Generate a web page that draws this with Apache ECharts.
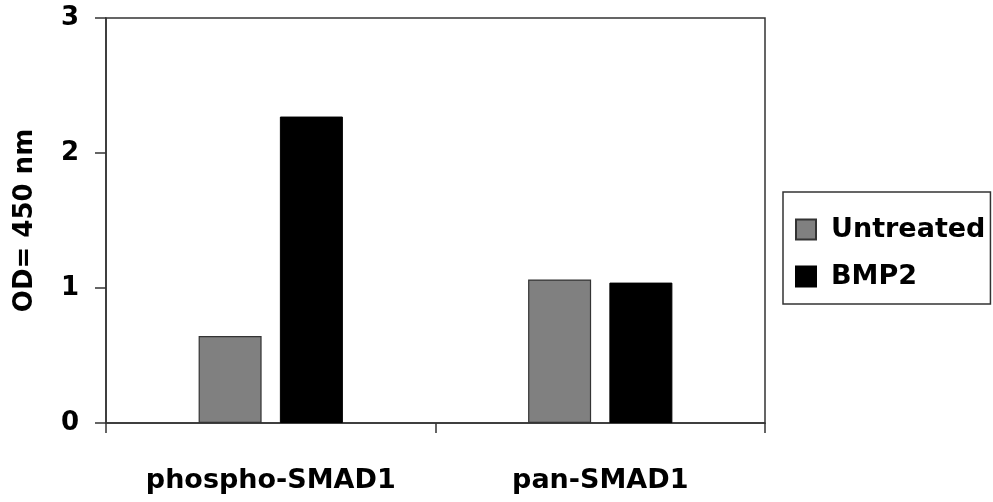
<!DOCTYPE html>
<html>
<head>
<meta charset="utf-8">
<script src="https://cdn.jsdelivr.net/npm/echarts@6/dist/echarts.min.js"></script>
<style>html,body{margin:0;padding:0;background:#fff}#c{width:993px;height:502px}</style>
</head>
<body>
<div id="c"></div>
<script>
var categories = ['phospho-SMAD1', 'pan-SMAD1'];
var untreated = [0.645, 1.063];
var bmp2 = [2.27, 1.04];
var seriesNames = ['Untreated', 'BMP2'];
var yTicks = [0, 1, 2, 3];

var FONT = 'DejaVu Sans';
var chart = echarts.init(document.getElementById('c'), null, {renderer: 'canvas'});
chart.setOption({
  animation: false,
  backgroundColor: '#fff',
  grid: {left: 106, right: 228, top: 18, bottom: 79, containLabel: false, outerBoundsMode: 'none',
         show: true, borderColor: '#333', borderWidth: 1.5, backgroundColor: 'transparent'},
  legend: {
    orient: 'vertical', left: 783, top: 192,
    data: seriesNames,
    itemWidth: 20, itemHeight: 20, itemGap: 20,
    padding: [24, 5, 14, 12],
    borderColor: '#333', borderWidth: 1.5,
    icon: 'rect',
    textStyle: {fontFamily: FONT, fontWeight: 'bold', fontSize: 27, color: '#000', lineHeight: 27, padding: [0, 0, 0, 10]}
  },
  xAxis: {
    type: 'category', data: categories,
    axisLine: {lineStyle: {color: '#333', width: 1.5}},
    axisTick: {show: true, length: 10, inside: false, lineStyle: {color: '#333', width: 1.5}},
    axisLabel: {fontFamily: FONT, fontWeight: 'bold', fontSize: 27, color: '#000', margin: 44}
  },
  yAxis: {
    type: 'value', min: 0, max: 3, interval: 1,
    name: 'OD= 450 nm', nameLocation: 'middle', nameRotate: 90, nameGap: 68,
    nameTextStyle: {fontFamily: FONT, fontWeight: 'bold', fontSize: 26, color: '#000'},
    axisLine: {show: true, lineStyle: {color: '#333', width: 1.5}},
    axisTick: {show: true, length: 11, lineStyle: {color: '#333', width: 1.5}},
    splitLine: {show: false},
    axisLabel: {fontFamily: FONT, fontWeight: 'bold', fontSize: 26, color: '#000', margin: 27,
      formatter: function (v) { return yTicks.indexOf(v) >= 0 ? String(v) : ''; }}
  },
  series: [
    {name: seriesNames[0], type: 'bar', data: untreated, barWidth: 63, barGap: '29%',
     itemStyle: {color: '#808080', borderColor: '#333', borderWidth: 1.2}},
    {name: seriesNames[1], type: 'bar', data: bmp2, barWidth: 63,
     itemStyle: {color: '#000', borderColor: '#000', borderWidth: 1}}
  ]
});
</script>
</body>
</html>
